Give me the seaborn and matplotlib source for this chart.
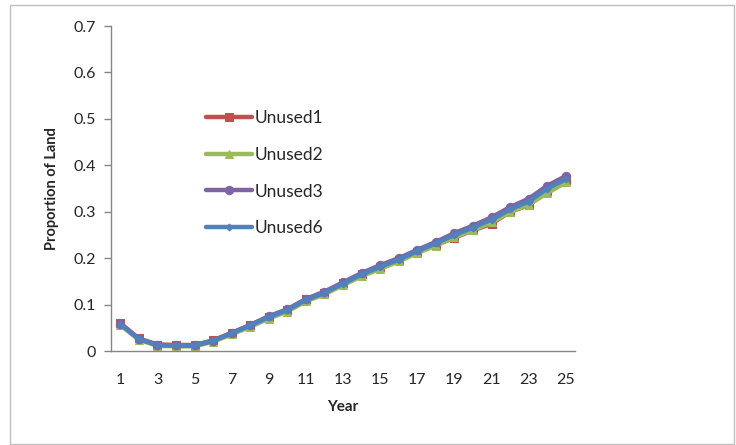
import pandas as pd
import seaborn as sns
import matplotlib.pyplot as plt
from matplotlib.patches import Rectangle

years = list(range(1, 26))
unused1 = [0.060, 0.027, 0.014, 0.013, 0.013, 0.023, 0.039, 0.056, 0.074, 0.089, 0.111, 0.126, 0.146,
           0.166, 0.182, 0.197, 0.214, 0.228, 0.244, 0.260, 0.274, 0.300, 0.314, 0.345, 0.368]
unused2 = [0.056, 0.024, 0.011, 0.010, 0.010, 0.020, 0.036, 0.052, 0.070, 0.085, 0.107, 0.122, 0.142,
           0.161, 0.177, 0.193, 0.211, 0.227, 0.245, 0.261, 0.277, 0.299, 0.315, 0.340, 0.363]
unused3 = [0.059, 0.026, 0.013, 0.012, 0.012, 0.022, 0.039, 0.056, 0.075, 0.090, 0.112, 0.128, 0.148,
           0.168, 0.185, 0.200, 0.218, 0.235, 0.254, 0.270, 0.288, 0.310, 0.328, 0.356, 0.377]
unused6 = [0.058, 0.026, 0.013, 0.012, 0.012, 0.022, 0.038, 0.055, 0.073, 0.088, 0.110, 0.125, 0.145,
           0.165, 0.181, 0.197, 0.215, 0.232, 0.250, 0.266, 0.283, 0.305, 0.322, 0.350, 0.370]

series = {"Unused1": unused1, "Unused2": unused2, "Unused3": unused3, "Unused6": unused6}
colors = {"Unused1": "#C0504D", "Unused2": "#9BBB59", "Unused3": "#8064A2", "Unused6": "#4F81BD"}
markers = {"Unused1": "s", "Unused2": "^", "Unused3": "o", "Unused6": "D"}
msizes = {"Unused1": 5.5, "Unused2": 5.5, "Unused3": 6, "Unused6": 3.5}

sns.set_style("white")
plt.rcParams['font.family'] = ['Lato', 'DejaVu Sans']

fig = plt.figure(figsize=(7.36, 4.45), dpi=100)
ax = fig.add_axes([0.1508, 0.2112, 0.6305, 0.7303])

for name, vals in series.items():
    df = pd.DataFrame({"Year": years, "Proportion": vals})
    sns.lineplot(data=df, x="Year", y="Proportion", ax=ax, color=colors[name], marker=markers[name],
                 markersize=msizes[name], markeredgecolor=colors[name], linewidth=3.2, label=name)

ax.set_xlim(0.5, 25.5)
ax.set_ylim(0, 0.7)
ax.set_xticks(range(1, 26, 2))
ax.set_yticks([0, 0.1, 0.2, 0.3, 0.4, 0.5, 0.6, 0.7])
ax.set_yticklabels(["0", "0.1", "0.2", "0.3", "0.4", "0.5", "0.6", "0.7"])
ax.tick_params(axis="y", left=True, length=5, width=1, color="#868686", labelsize=11.5, pad=6)
ax.tick_params(axis="x", bottom=False, labelsize=11.5, pad=12)
ax.set_xlabel("Year", fontweight="bold", fontsize=11, labelpad=10)
ax.set_ylabel("Proportion of Land", fontweight="bold", fontsize=10.5, labelpad=10)

for side in ["top", "right"]:
    ax.spines[side].set_visible(False)
for side in ["left", "bottom"]:
    ax.spines[side].set_color("#868686")
    ax.spines[side].set_linewidth(1)

leg = ax.legend(loc="upper left", bbox_to_anchor=(0.17, 0.79), frameon=False, fontsize=12.5,
                handlelength=2.7, handletextpad=0.15, labelspacing=1.2)

fig.patches.append(Rectangle((0.013, 0.003), 0.984, 0.985, transform=fig.transFigure,
                             fill=False, edgecolor="#BFBFBF", linewidth=1))

fig.savefig("out.png", dpi=100)
